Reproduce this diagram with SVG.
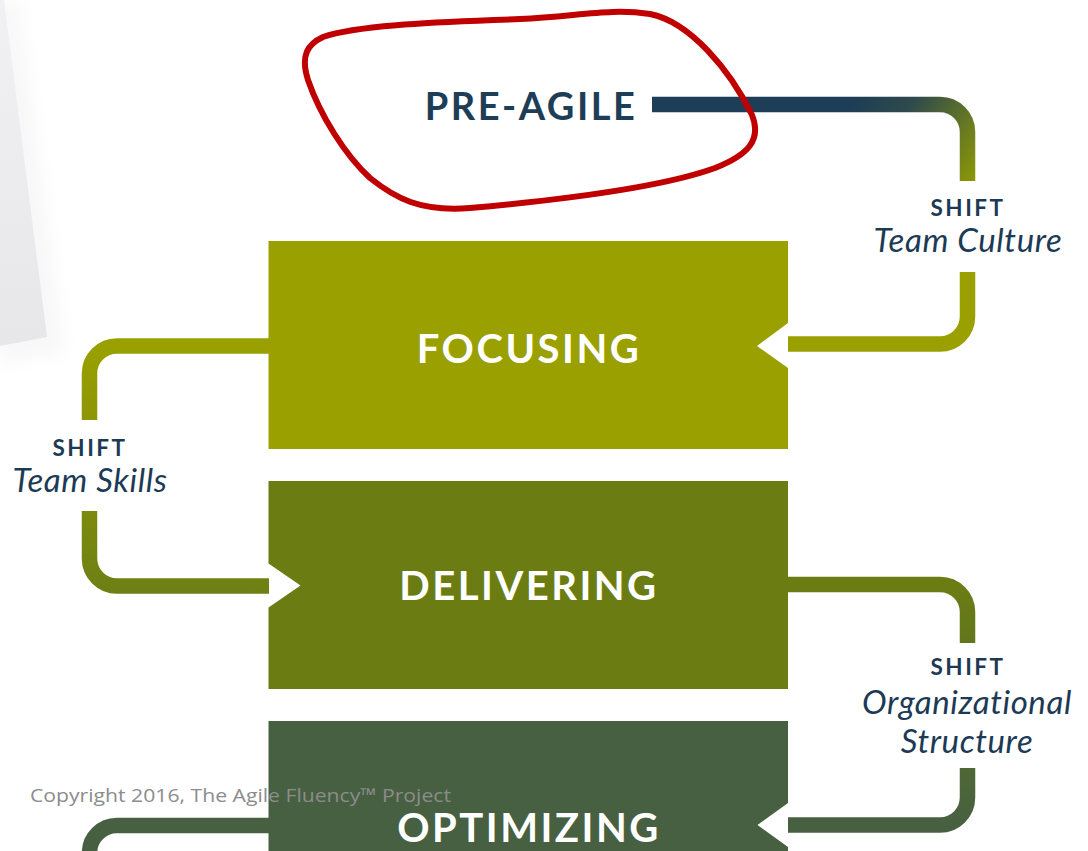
<svg xmlns="http://www.w3.org/2000/svg" width="1088" height="851" viewBox="0 0 1088 851">
<style>
.box-label{font-family:Lato,"Open Sans",sans-serif;font-weight:700;font-size:40px;letter-spacing:2.5px;fill:#ffffff;text-anchor:middle}
.shift{font-family:Lato,"Open Sans",sans-serif;font-weight:700;font-size:22.5px;letter-spacing:2.5px;fill:#1c3a55;text-anchor:middle}
.shift-name{font-family:Lato,"Open Sans",sans-serif;font-style:italic;font-size:33px;letter-spacing:0.6px;fill:#1c3a55;text-anchor:middle}
.conn{fill:none;stroke-width:15.5;stroke-linecap:butt}
</style>
<defs>
<linearGradient id="gTop" gradientUnits="userSpaceOnUse" x1="850" y1="104" x2="975" y2="185">
<stop offset="0" stop-color="#1e3d56"/><stop offset="0.35" stop-color="#2f4a4c"/><stop offset="1" stop-color="#8f9a05"/>
</linearGradient>
<linearGradient id="gLeft" gradientUnits="userSpaceOnUse" x1="0" y1="346" x2="0" y2="590">
<stop offset="0" stop-color="#99a000"/><stop offset="1" stop-color="#6e8014"/>
</linearGradient>
<linearGradient id="gRight" gradientUnits="userSpaceOnUse" x1="0" y1="584" x2="0" y2="826">
<stop offset="0" stop-color="#6b7d12"/><stop offset="1" stop-color="#476041"/>
</linearGradient>
<linearGradient id="gPaper" x1="0" y1="0" x2="0" y2="1">
<stop offset="0" stop-color="#f1f1f3"/><stop offset="1" stop-color="#e7e7e9"/>
</linearGradient>
<filter id="soft" x="-1" y="-0.2" width="3" height="1.4"><feGaussianBlur stdDeviation="8"/></filter>
</defs>
<rect width="1088" height="851" fill="#ffffff"/>
<g id="paper">
<polygon points="0,0 18,0 64,352 0,364" fill="#ececec" opacity="0.4" filter="url(#soft)"/>
<polygon points="0,0 4,0 47,337 0,346" fill="url(#gPaper)"/>
</g>
<g id="connectors">
<path class="conn" stroke="url(#gTop)" d="M652,104.5 H940 A27.5,27.5 0 0 1 967.5,132 V181"/>
<path class="conn" stroke="#99a000" d="M967.5,272 V316.5 A27.5,27.5 0 0 1 940,344 H788"/>
<path class="conn" stroke="url(#gLeft)" d="M269,346 H117 A27.5,27.5 0 0 0 89.5,373.5 V420"/>
<path class="conn" stroke="url(#gLeft)" d="M89.5,511 V558.5 A27.5,27.5 0 0 0 117,586 H269"/>
<path class="conn" stroke="url(#gRight)" d="M788,584.5 H940 A27.5,27.5 0 0 1 967.5,612 V643"/>
<path class="conn" stroke="url(#gRight)" d="M967.5,768 V797.5 A27.5,27.5 0 0 1 940,825 H788"/>
<path class="conn" stroke="#476041" d="M269,825.5 H117 A27.5,27.5 0 0 0 89.5,853 V870"/>
</g>
<g id="pre-agile">
<text x="531" y="120" font-family="Lato,'Open Sans',sans-serif" font-weight="700" font-size="38" letter-spacing="2.5" fill="#1e3d56" text-anchor="middle">PRE-AGILE</text>
</g>
<g id="focusing">
<polygon points="268.5,241 788,241 788,323 757,346 788,368 788,449 268.5,449" fill="#99a000"/>
<text class="box-label" x="529" y="363">FOCUSING</text>
</g>
<g id="delivering">
<polygon points="268.5,481 788,481 788,689 268.5,689 268.5,607.5 300.5,585.5 268.5,563.5" fill="#6b7d12"/>
<text class="box-label" x="529" y="600">DELIVERING</text>
</g>
<g id="optimizing">
<polygon points="268.5,721 788,721 788,803 757.5,825 788,847 788,860 268.5,860" fill="#476041"/>
<text class="box-label" x="529" y="842">OPTIMIZING</text>
</g>
<g id="shift-team-culture">
<text class="shift" x="968" y="216">SHIFT</text>
<text class="shift-name" x="968" y="252">Team Culture</text>
</g>
<g id="shift-team-skills">
<text class="shift" x="90" y="456">SHIFT</text>
<text class="shift-name" x="90" y="492">Team Skills</text>
</g>
<g id="shift-organizational-structure">
<text class="shift" x="968" y="675">SHIFT</text>
<text class="shift-name" x="967" y="714">Organizational</text>
<text class="shift-name" x="967" y="753">Structure</text>
</g>
<g id="annotation">
<path d="M323,37 C360,24 450,22 520,19 C580,16 610,8 650,14 C690,22 730,70 752,115 C762,140 748,155 715,168 C660,188 560,200 470,208 C420,212 395,198 370,178 C345,155 320,115 308,80 C300,55 308,44 323,37 Z" fill="none" stroke="#c00000" stroke-width="6" stroke-linejoin="round"/>
</g>
<g id="copyright">
<text x="30" y="802" font-family="'Open Sans','Liberation Sans',sans-serif" font-size="19" fill="#8c8c8c" textLength="421" lengthAdjust="spacingAndGlyphs">Copyright 2016, The Agile Fluency™ Project</text>
</g>
</svg>
